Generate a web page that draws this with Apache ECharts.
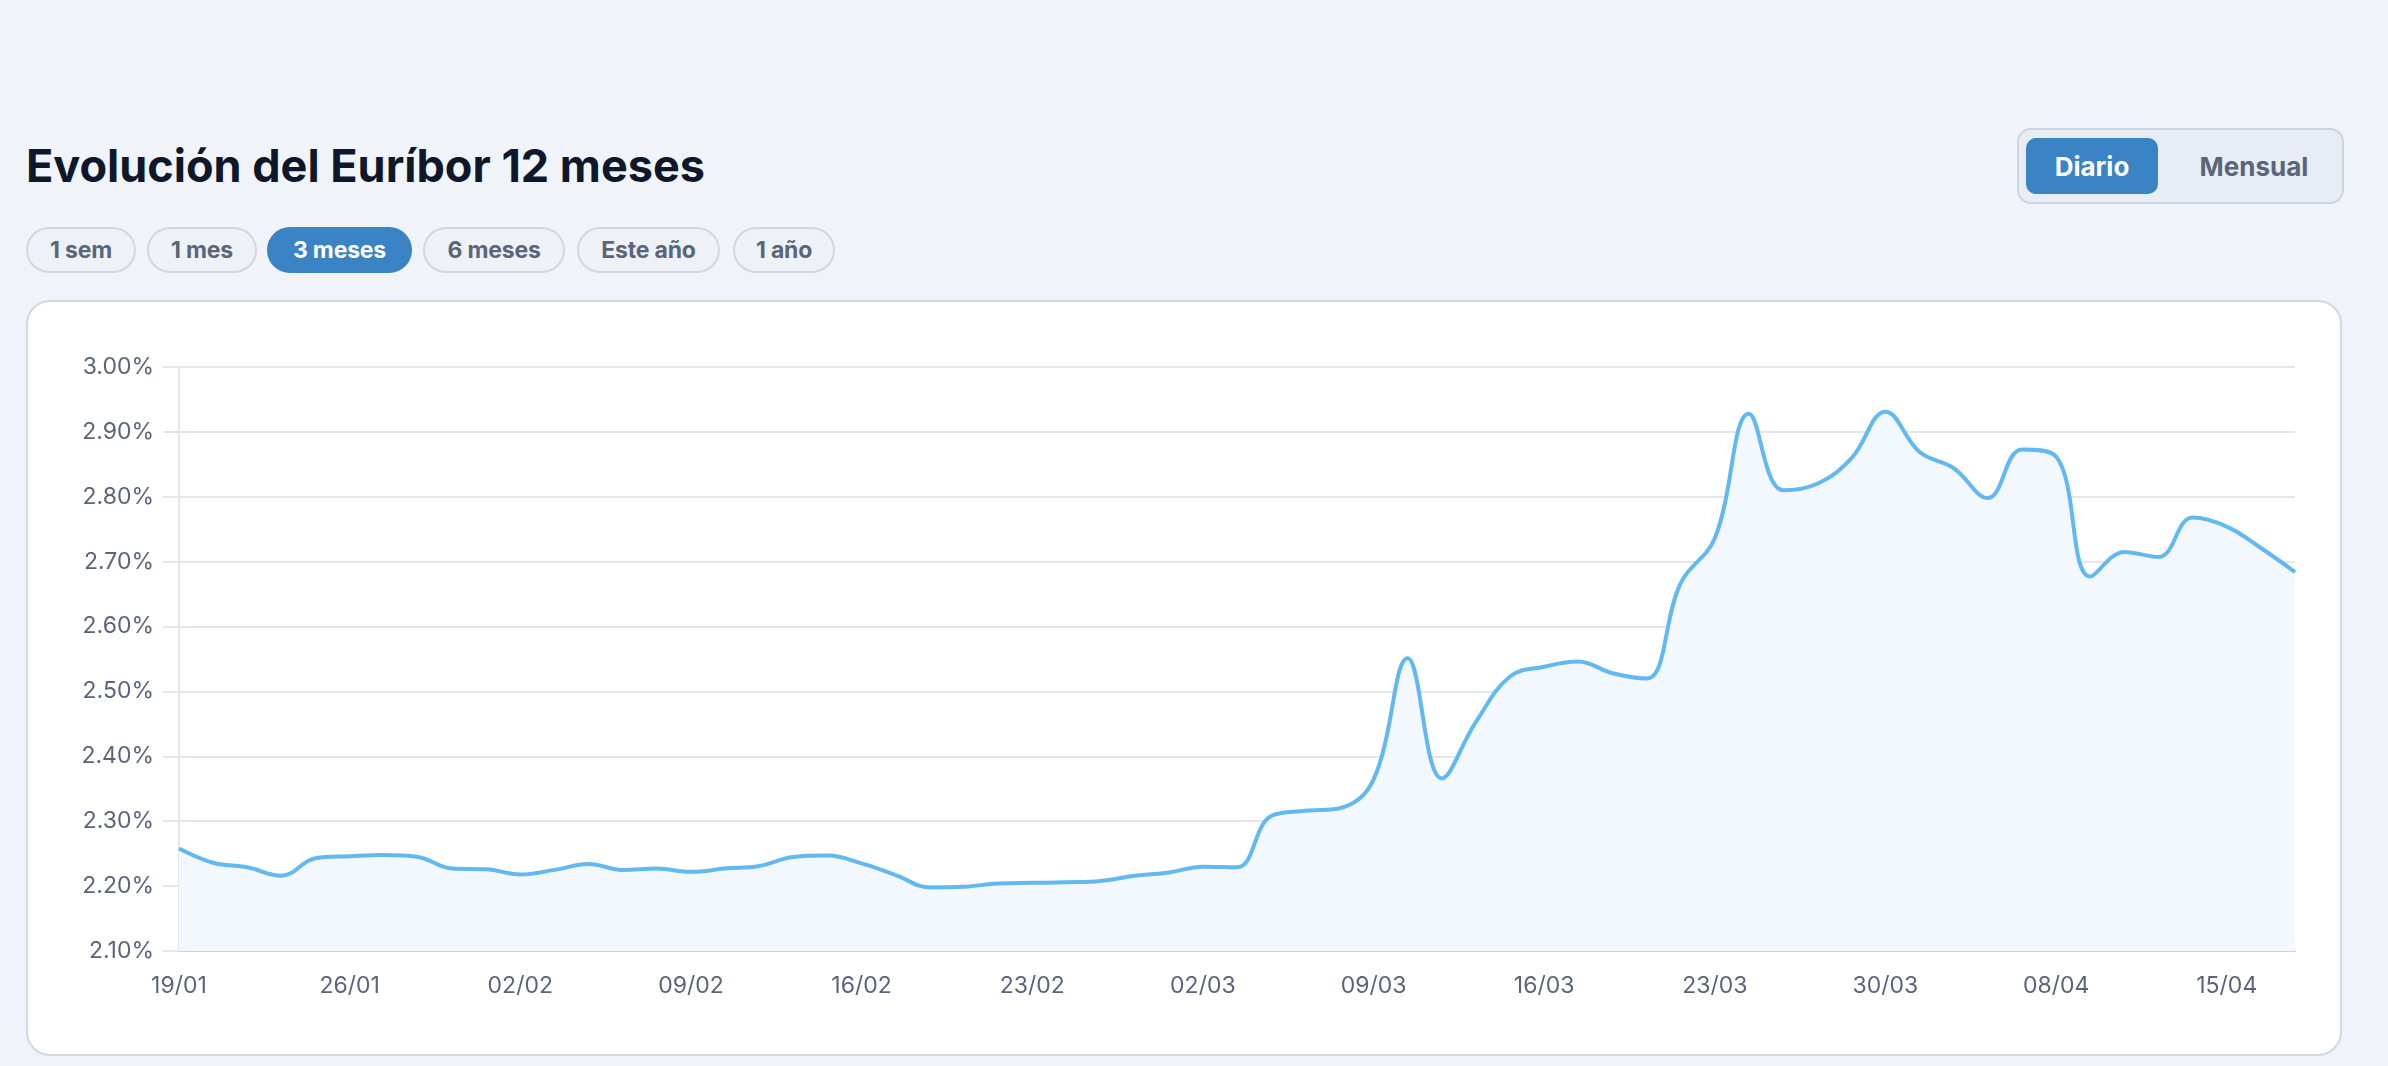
<!DOCTYPE html>
<html>
<head>
<meta charset="utf-8">
<script src="https://cdn.jsdelivr.net/npm/echarts@6/dist/echarts.min.js"></script>
<style>
  html, body { margin:0; padding:0; width:2388px; height:1066px; background:#f0f4f9; overflow:hidden; font-family: Inter, "Noto Sans", sans-serif; }
  .title { position:absolute; left:26px; top:143px; font-size:45px; line-height:45px; font-weight:700; color:#0f172a; letter-spacing:0px; white-space:nowrap; }
  .pill { position:absolute; top:227px; height:46px; box-sizing:border-box; border:2px solid #cfd7e2; border-radius:23px; background:#eef2f7; color:#5b6579; font-size:23px; font-weight:700; display:flex; align-items:center; justify-content:center; white-space:nowrap; letter-spacing:-0.2px; }
  .pill.active { background:#3a83c4; border-color:#3a83c4; color:#ffffff; }
  .toggle { position:absolute; left:2017px; top:128px; width:327px; height:76px; box-sizing:border-box; border:2px solid #cdd5e0; border-radius:14px; background:#e8edf5; }
  .tbtn { position:absolute; top:8px; height:56px; font-size:26px; font-weight:700; display:flex; align-items:center; justify-content:center; border-radius:10px; }
  .card { position:absolute; left:26px; top:300px; width:2316px; height:756px; box-sizing:border-box; border:2px solid #cfd8e3; border-radius:24px; background:#ffffff; }
  #chart { position:absolute; left:0; top:0; width:2388px; height:1066px; }
</style>
</head>
<body>
<div class="title">Evolución del Euríbor 12 meses</div>
<div class="pill" style="left:26px;width:110px;">1 sem</div>
<div class="pill" style="left:147px;width:110px;">1 mes</div>
<div class="pill active" style="left:267px;width:145px;">3 meses</div>
<div class="pill" style="left:423px;width:142px;">6 meses</div>
<div class="pill" style="left:577px;width:143px;">Este año</div>
<div class="pill" style="left:733px;width:102px;">1 año</div>
<div class="toggle">
  <div class="tbtn" style="left:7px;width:132px;background:#3a83c4;color:#ffffff;">Diario</div>
  <div class="tbtn" style="left:162px;width:146px;color:#5b6579;">Mensual</div>
</div>
<div class="card"></div>
<div id="chart"></div>
<script>
const dates = [
  "19/01","20/01","21/01","22/01","23/01","26/01","27/01","28/01","29/01","30/01",
  "02/02","03/02","04/02","05/02","06/02","09/02","10/02","11/02","12/02","13/02",
  "16/02","17/02","18/02","19/02","20/02","23/02","24/02","25/02","26/02","27/02",
  "02/03","03/03","04/03","05/03","06/03","09/03","10/03","11/03","12/03","13/03",
  "16/03","17/03","18/03","19/03","20/03","23/03","24/03","25/03","26/03","27/03",
  "30/03","31/03","01/04","02/04","07/04","08/04","09/04","10/04","13/04","14/04",
  "15/04","16/04","17/04"
];
const euribor = [
  2.258,2.236,2.229,2.216,2.243,2.246,2.248,2.245,2.227,2.226,
  2.218,2.225,2.234,2.225,2.227,2.222,2.227,2.231,2.245,2.247,
  2.235,2.217,2.198,2.199,2.204,2.205,2.206,2.208,2.216,2.221,
  2.230,2.229,2.308,2.316,2.320,2.364,2.551,2.366,2.453,2.523,
  2.538,2.546,2.528,2.520,2.667,2.736,2.928,2.810,2.820,2.859,
  2.931,2.869,2.844,2.798,2.873,2.862,2.677,2.715,2.707,2.768,
  2.754,2.721,2.684
];
const yMin = 2.1, yMax = 3.0, yStep = 0.1;
const labelEvery = 5;

const chart = echarts.init(document.getElementById('chart'), null, {renderer:'canvas'});
chart.setOption({
  animation: false,
  backgroundColor: 'transparent',
  grid: { left: 179, top: 367, width: 2116, height: 584, containLabel: false },
  xAxis: {
    type: 'category',
    data: dates,
    boundaryGap: false,
    axisLine: { show: true, lineStyle: { color: '#cbd3de', width: 2 } },
    axisTick: { show: false },
    splitLine: { show: false },
    axisLabel: { interval: (i) => i % labelEvery === 0, color: '#5b6579', fontSize: 23, fontFamily: 'Inter', margin: 24 }
  },
  yAxis: {
    type: 'value',
    min: yMin, max: yMax, interval: yStep,
    axisLine: { show: true, lineStyle: { color: '#e3e6ec', width: 2 } },
    axisTick: { show: true, length: 16, lineStyle: { color: '#e3e6ec', width: 2 } },
    splitLine: { show: true, lineStyle: { color: '#e3e6ec', width: 2 } },
    axisLabel: { color: '#5b6579', fontSize: 23, fontFamily: 'Inter', margin: 25,
      formatter: v => v.toFixed(2) + '%' }
  },
  series: [{
    type: 'line',
    data: euribor,
    smooth: 0.4,
    symbol: 'none',
    lineStyle: { color: '#62b8f0', width: 4 },
    areaStyle: { color: '#f3f8fe', opacity: 1 }
  }]
});
</script>
</body>
</html>
